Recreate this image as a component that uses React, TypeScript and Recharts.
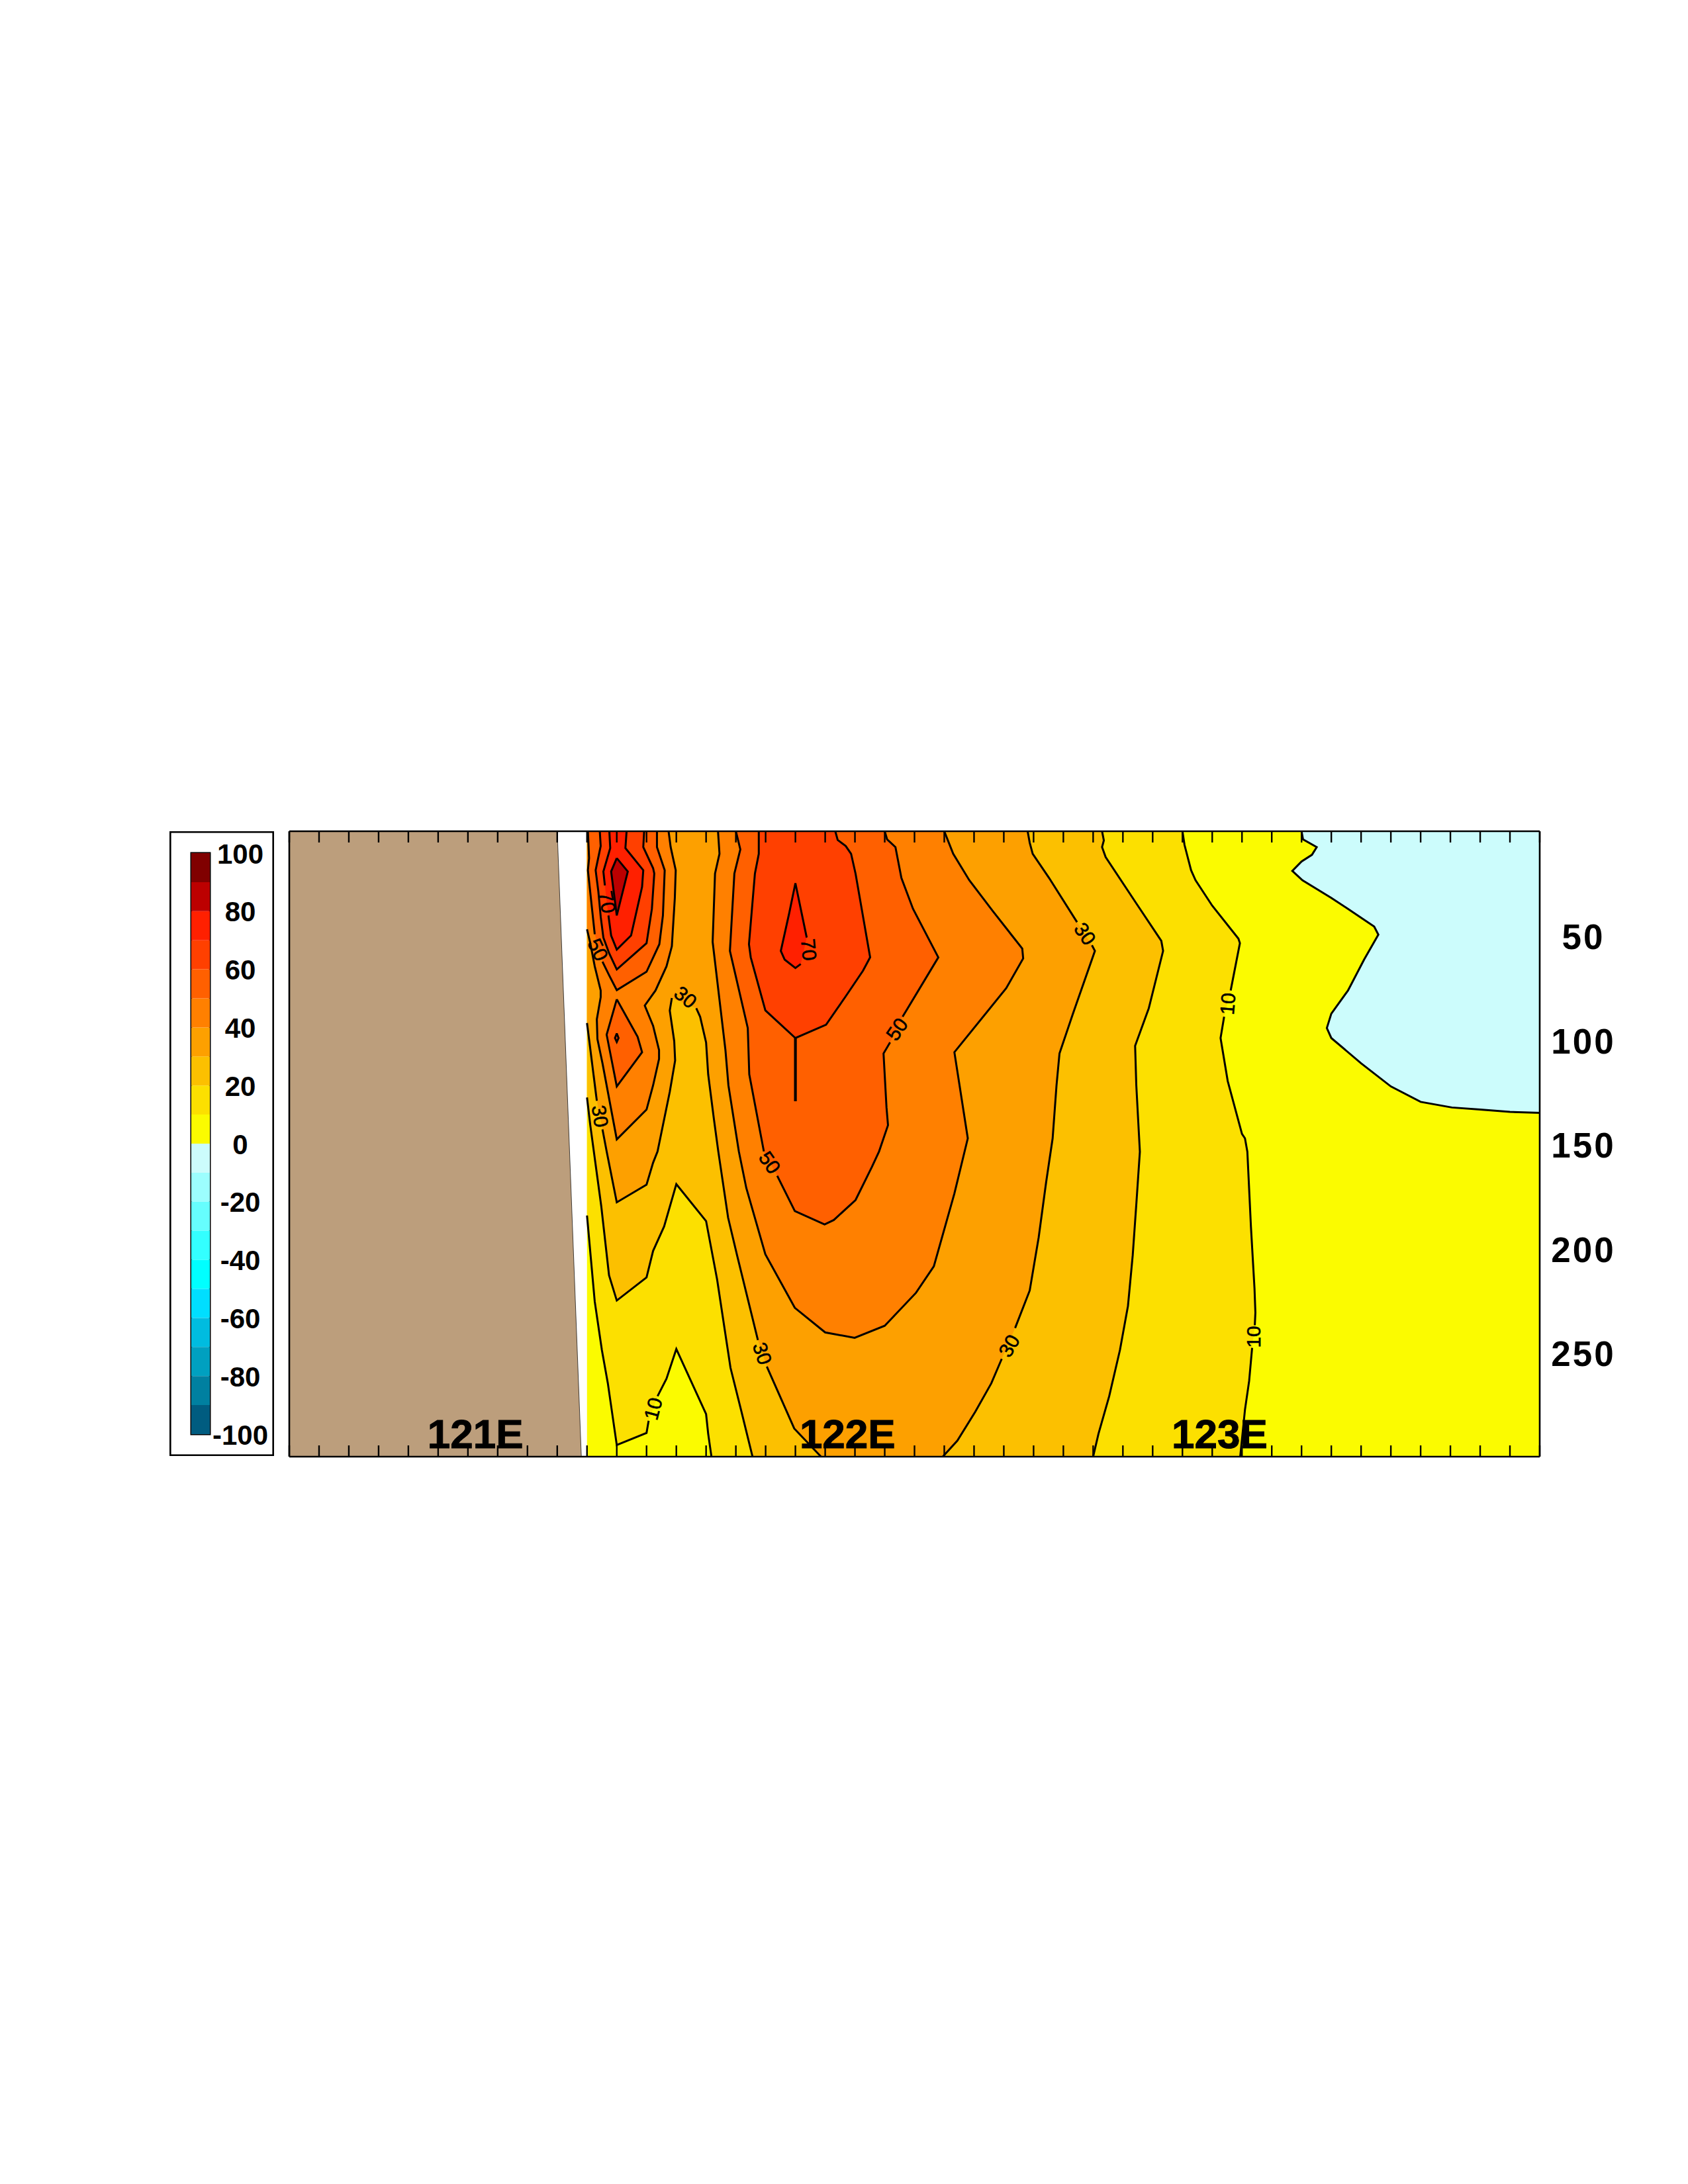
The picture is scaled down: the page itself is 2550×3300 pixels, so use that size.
import React from "react";
import {
    Bar,
    BarChart,
    ReferenceArea,
    Scatter,
    ScatterChart,
    XAxis,
    YAxis,
} from "recharts";

// x of every contour vertex is a model grid column: lon = 120.5 + 0.08 * column
const gridColumns = Array.from({length: 43}, (_, i) => i);
const depthTicks = [50, 100, 150, 200, 250];
const scaleTicks = [-100, -80, -60, -40, -20, 0, 20, 40, 60, 80, 100];

const positiveColors = ["#fbfb00", "#fce000", "#fcc000", "#fda000", "#ff8000", "#ff6000", "#ff4000", "#ff2000", "#bc0000", "#800000"];
const negativeColors = ["#ccfcfc", "#9cfefe", "#66fefe", "#33ffff", "#00ffff", "#00deff", "#00bce0", "#00a0c0", "#0080a0", "#005c80"];

const landOutline = [[0, 0], [9, 0], [9.81, 300], [0, 300]];
const landEdge = [[9, 0], [9.81, 300]];
const sectionArea = [[10, 0], [42, 0], [42, 300], [10, 300]];

const contour0 = [[[34, 0], [34.05, 3.9], [34.51, 7.6], [34.35, 11.3], [34, 14.5], [33.69, 19], [34.03, 23.5], [35, 32], [35.5, 36.7], [36.44, 45.7], [36.58, 49.6], [36.1, 61.6], [35.56, 76.4], [35, 87.5], [34.85, 94.4], [35, 99.2], [36, 111.3], [37, 122.4], [38, 129.8], [39.05, 132.5], [40, 133.5], [41, 134.6], [42, 135.1]]];

const contour10 = [
    [[10, 184.3], [10.26, 225.6], [10.5, 248.9], [10.7, 264.8], [11, 294.4], [12, 288.6], [12.07, 282.8]],
    [[12.37, 271], [12.67, 262.6], [13, 248.4], [14, 279.6], [14.07, 289], [14.18, 300]],
    [[31.94, 300], [32.1, 277.5], [32.24, 263.7], [32.34, 247.8]],
    [[32.43, 237], [32.45, 230.9], [32.42, 219.3], [32.3, 189.6], [32.18, 153.7], [32.1, 147.3], [32, 145.2], [31.52, 119.8], [31.28, 99.2], [31.4, 89]],
    [[31.62, 76.4], [31.93, 53.7], [31.88, 51.5], [31, 35.7], [30.44, 23.5], [30.29, 18.7], [30.07, 6.6], [30, 0]],
];

const contour20 = [
    [[10, 127.7], [10.11, 141], [10.48, 180], [10.74, 213], [11, 225.1], [12, 214], [12.22, 201.3], [12.59, 189.6], [13, 169.3], [14, 187], [14.37, 215], [14.82, 257.4], [15.19, 278.5], [15.56, 300]],
    [[27, 300], [27.18, 289], [27.54, 271], [27.9, 248.9], [28.17, 227.7], [28.33, 203.4], [28.45, 179], [28.57, 153.7], [28.45, 121.9], [28.41, 102.9], [28.87, 84.9], [29.35, 57.4], [29.29, 52.6], [28.45, 34.6], [27.42, 12.4], [27.3, 7.6], [27.36, 4.4], [27.3, 0]],
];

const contour30 = [
    [[10, 92], [10.33, 129.3]],
    [[10.52, 143], [10.66, 153.6], [11, 178], [12, 169.5], [12.22, 159], [12.37, 153.6], [12.78, 125], [12.96, 110], [12.93, 100.7], [12.78, 86], [12.85, 80]],
    [[13.67, 84.9], [13.8, 89], [14, 101.3], [14.07, 116.6], [14.26, 137.8], [14.41, 153.6], [14.74, 185.4], [15.04, 203.4], [15.74, 244.1]],
    [[16.04, 256.8], [16.96, 286.5], [17.86, 300]],
    [[21.95, 300], [22.44, 292.3], [23.04, 278.5], [23.58, 264.8], [23.93, 253.1]],
    [[24.38, 238.3], [24.87, 220.3], [25.17, 194.9], [25.42, 168.5], [25.64, 147.3], [25.77, 121.9], [25.87, 106.6], [26.31, 88], [27.06, 57.4], [26.96, 54.7]],
    [[26.46, 43.6], [25.52, 22.4], [24.97, 10.8], [24.87, 5.5], [24.8, 0]],
];

const contour40West = [[[10, 47], [10.11, 53.7], [10.26, 64.8], [10.46, 76.4], [10.46, 79.6], [10.33, 90.2], [10.35, 99.7], [10.52, 111.3], [11, 147.8], [12, 133.5], [12.22, 121.9], [12.42, 109.2], [12.42, 105], [12.22, 93.3], [11.94, 83.6], [12.3, 76.4], [12.67, 64.8], [12.85, 55.2], [12.95, 32], [12.98, 18.7], [12.81, 7.6], [12.74, 0]]];
const contour40East = [[[14.4, 0], [14.45, 10.8], [14.3, 20.3], [14.22, 53.1], [14.65, 105], [14.75, 121.9], [15.1, 153.6], [15.35, 171.1], [15.99, 202.9], [16.98, 228.6], [18, 240.4], [18.99, 243], [20, 237.2], [21.05, 221.4], [21.65, 208.7], [22.34, 173.8], [22.79, 147.3], [22.34, 106], [24.08, 75.3], [24.65, 61], [24.62, 56.3], [23.63, 38.3], [22.84, 23.5], [22.3, 10.8], [22, 0]]];

const contour50West = [
    [[12.35, 0], [12.35, 7.6], [12.61, 18.7], [12.55, 40.4], [12.43, 54.2], [12, 67.4], [11, 76.2], [10.74, 69], [10.52, 62.6]],
    [[10.26, 49.4], [10.03, 18.7], [10.07, 12.9], [10.03, 0]],
];
const contour50Patch = [[[11, 80.6], [11.7, 98.6], [11.85, 106], [11, 122.4], [10.66, 97.6], [11, 80.6]]];
const contour50East = [
    [[15, 0], [15.15, 8.7], [14.95, 20.3], [14.8, 57.4], [15.4, 94.4], [15.45, 116.6], [15.94, 153.6]],
    [[16.39, 165.3], [16.98, 182.2], [17.98, 188.6], [18.29, 186.5], [19.02, 176.9], [19.57, 161], [19.81, 153.6], [20.11, 141], [20.06, 132.5], [19.96, 106.6], [20.18, 101.3]],
    [[20.6, 89], [21.8, 60.5], [20.95, 37.2], [20.56, 22.4], [20.36, 7.6], [20.08, 3.9], [20, 0]],
];

const contour60West = [[[11.92, 0], [11.89, 7.6], [12.22, 17.7], [12.26, 20.3], [12.18, 37.2], [12, 53.7], [11, 66.3], [10.74, 58.4], [10.55, 51], [10.46, 41], [10.38, 28.8], [10.29, 18.7], [10.46, 7.1], [10.43, 0]]];
const contour60Patch = [[[11, 97], [11.06, 99.2], [11, 101.1], [10.94, 99.2], [11, 97]]];
const contour60East = [[[15.77, 0], [15.77, 10.8], [15.64, 20.3], [15.44, 54.2], [15.5, 60.5], [15.99, 85.9], [17, 99.2], [18.03, 92.8], [18.67, 79.6], [19.27, 66.9], [19.51, 60.5], [19.02, 20.3], [18.87, 10.8], [18.69, 7.1], [18.42, 4.2], [18.34, 0]]];
const contour60Spike = [[[17, 99.2], [17, 129.5]]];

const contour70West = [
    [[11.33, 0], [11.29, 8.1], [11.89, 18.7], [11.85, 26.7], [11.48, 50], [11, 56.8], [10.81, 50], [10.72, 40.4]],
    [[10.6, 26], [10.55, 19.3], [10.78, 8.1], [10.75, 0]],
];
const contour70East = [
    [[17.38, 51], [17, 24.9], [16.79, 39.4], [16.51, 57.4], [16.64, 61.6], [17, 65.6], [17.18, 63.7]],
];
const contour80 = [[[11, 12.9], [11.37, 19.3], [11, 40.4], [10.81, 19.3], [11, 12.9]]];

const contourLabelText = ["70", "50", "30", "30", "10", "70", "50", "50", "30", "30", "30", "10", "10"];
const contourLabelColumn = [10.68, 10.37, 10.44, 13.31, 12.22, 17.45, 20.41, 16.14, 15.89, 24.18, 26.73, 31.52, 32.39];
const contourLabelDepth = [34, 56.8, 136.7, 79.6, 277, 56.8, 94.9, 158.9, 250.5, 246.8, 49.2, 82.8, 242.5];
const contourLabelAngle = [80, 65, 82, 40, -75, 85, -55, 55, 72, -60, 55, -85, -90];

const placeNames = ["121E", "122E", "123E"];
const placeLons = [121, 122, 123];
const placeDepth = 295.9;

const gridLon = (column: number) => 120.5 + 0.08 * column;
const toPoints = (pts: number[][]) => pts.map(([column, depth]) => ({lon: gridLon(column), depth}));

type Band = { color: string; segments: number[][][]; corners: number[][] };

const bands: Band[] = [
    {color: positiveColors[0], segments: [sectionArea], corners: []},
    {color: negativeColors[0], segments: contour0, corners: [[42, 0]]},
    {color: positiveColors[1], segments: contour10, corners: [[10, 0]]},
    {color: positiveColors[2], segments: contour20, corners: [[10, 0]]},
    {color: positiveColors[3], segments: contour30, corners: [[10, 0]]},
    {color: positiveColors[4], segments: contour40West, corners: [[10, 0]]},
    {color: positiveColors[4], segments: contour40East, corners: []},
    {color: positiveColors[5], segments: contour50West, corners: []},
    {color: positiveColors[5], segments: contour50Patch, corners: []},
    {color: positiveColors[5], segments: contour50East, corners: []},
    {color: positiveColors[6], segments: contour60West, corners: []},
    {color: positiveColors[6], segments: contour60Patch, corners: []},
    {color: positiveColors[6], segments: contour60East, corners: []},
    {color: positiveColors[7], segments: contour70West, corners: []},
    {color: positiveColors[7], segments: contour70East, corners: []},
    {color: positiveColors[8], segments: contour80, corners: []},
];

const contourLines = [
    contour0, contour10, contour20, contour30, contour40West, contour40East,
    contour50West, contour50Patch, contour50East, contour60West, contour60Patch,
    contour60East, contour70West, contour70East, contour80,
].flat();

const gridLons = gridColumns.map(gridLon);
const contourLabels = contourLabelText.map((text, i) => ({
    lon: gridLon(contourLabelColumn[i]),
    depth: contourLabelDepth[i],
    text,
    angle: contourLabelAngle[i],
}));
const places = placeNames.map((name, i) => ({lon: placeLons[i], depth: placeDepth, name}));

const FONT = "'Liberation Sans', Arial, sans-serif";
const noMarker = () => <g/>;

const polygon = (color: string) => (props: any) => {
    const d = props.points.map((p: any, i: number) => (i ? "L" : "M") + p.x + "," + p.y).join("") + "Z";
    return <path d={d} fill={color} stroke="none"/>;
};

const contourLabel = (props: any) => (
    <text
        x={props.cx}
        y={props.cy}
        transform={"rotate(" + props.payload.angle + " " + props.cx + " " + props.cy + ")"}
        textAnchor="middle"
        dominantBaseline="central"
        fontFamily={FONT}
        fontSize={30}
        fill="#000"
        stroke="#000"
        strokeWidth={0.6}
    >
        {props.payload.text}
    </text>
);

const placeLabel = (props: any) => (
    <text x={props.cx} y={props.cy} textAnchor="middle" fontFamily={FONT} fontWeight="bold" fontSize={62} fill="#000" stroke="#000" strokeWidth={1}>
        {props.payload.name}
    </text>
);

const depthTick = (props: any) => (
    <text
        x={props.x + 66}
        y={props.y + 2}
        textAnchor="middle"
        dominantBaseline="central"
        fontFamily={FONT}
        fontWeight="bold"
        fontSize={53}
        letterSpacing={3}
        fill="#000"
    >
        {props.payload.value}
    </text>
);

const scaleTick = (props: any) => (
    <text
        x={props.x + 46}
        y={props.y + 1}
        textAnchor="middle"
        dominantBaseline="central"
        fontFamily={FONT}
        fontWeight="bold"
        fontSize={42}
        fill="#000"
    >
        {props.payload.value}
    </text>
);

const scaleRow: any = {name: "scale"};
positiveColors.forEach((_, i) => (scaleRow["p" + i] = 10));
negativeColors.forEach((_, i) => (scaleRow["n" + i] = -10));

function ColorScale() {
    return (
        <BarChart
            width={158}
            height={944}
            data={[scaleRow]}
            stackOffset="sign"
            barCategoryGap={0}
            margin={{top: 33, right: 0, bottom: 33, left: 33}}
        >
            <XAxis dataKey="name" hide/>
            <YAxis
                type="number"
                orientation="right"
                domain={[-100, 100]}
                ticks={scaleTicks}
                interval={0}
                width={97}
                axisLine={false}
                tickLine={false}
                tickSize={0}
                tickMargin={0}
                tick={scaleTick}
            />
            {positiveColors.map((c, i) => (
                <Bar key={"p" + i} dataKey={"p" + i} stackId="scale" fill={c} isAnimationActive={false}/>
            ))}
            {negativeColors.map((c, i) => (
                <Bar key={"n" + i} dataKey={"n" + i} stackId="scale" fill={c} isAnimationActive={false}/>
            ))}
            <ReferenceArea y1={-100} y2={100} fill="none" stroke="#000" strokeWidth={3} ifOverflow="visible"/>
        </BarChart>
    );
}

const xProps = {
    type: "number" as const,
    dataKey: "lon",
    domain: [120.5, 123.86],
    ticks: gridLons,
    interval: 0,
    height: 1,
    allowDataOverflow: true,
    tick: noMarker,
    tickSize: -17,
    axisLine: {stroke: "#000", strokeWidth: 2.6},
    tickLine: {stroke: "#000", strokeWidth: 2.4},
};
const yProps = {
    type: "number" as const,
    dataKey: "depth",
    domain: [0, 300],
    reversed: true,
    allowDataOverflow: true,
    axisLine: {stroke: "#000", strokeWidth: 2.6},
    tickLine: false,
};

function SectionChart() {
    const ids = {xAxisId: "lon", yAxisId: "depth"};

    return (
        <ScatterChart width={2100} height={1050} margin={{top: 56, right: 174, bottom: 49, left: 37}}>
            <XAxis xAxisId="lon" hide {...xProps}/>
            <YAxis yAxisId="depth" hide {...yProps}/>

            <Scatter {...ids} data={toPoints(landOutline)} shape={noMarker} line={polygon("#bc9e7c")} isAnimationActive={false}/>
            <Scatter {...ids} data={toPoints(landEdge)} shape={noMarker} line={{stroke: "#000", strokeWidth: 0.7}} isAnimationActive={false}/>

            {bands.map((band, i) => (
                <Scatter
                    key={"band" + i}
                    {...ids}
                    data={toPoints([...band.segments.flat(), ...band.corners])}
                    shape={noMarker}
                    line={polygon(band.color)}
                    isAnimationActive={false}
                />
            ))}

            {contourLines.map((segment, i) => (
                <Scatter
                    key={"line" + i}
                    {...ids}
                    data={toPoints(segment)}
                    shape={noMarker}
                    line={{stroke: "#000", strokeWidth: 3}}
                    isAnimationActive={false}
                />
            ))}
            <Scatter {...ids} data={toPoints(contour60Spike[0])} shape={noMarker} line={{stroke: "#000", strokeWidth: 4.2}} isAnimationActive={false}/>

            <Scatter {...ids} data={contourLabels} shape={contourLabel} isAnimationActive={false}/>
            <Scatter {...ids} data={places} shape={placeLabel} isAnimationActive={false}/>
        </ScatterChart>
    );
}

// axes sit in their own chart on top, since recharts paints axes under the series
function SectionFrame() {
    return (
        <ScatterChart width={2100} height={1050} margin={{top: 55, right: 24, bottom: 48, left: 36}}>
            <XAxis xAxisId="lon" orientation="bottom" {...xProps}/>
            <XAxis xAxisId="lonTop" orientation="top" {...xProps}/>
            <YAxis yAxisId="depthLeft" orientation="left" width={1} ticks={[]} tick={false} {...yProps}/>
            <YAxis
                yAxisId="depth"
                orientation="right"
                width={150}
                ticks={depthTicks}
                interval={0}
                tickSize={0}
                tickMargin={0}
                tick={depthTick}
                {...yProps}
            />
        </ScatterChart>
    );
}

export default function App() {
    return (
        <div style={{position: "absolute", left: 0, top: 0, width: 2550, height: 3300, background: "#fff"}}>
            <div style={{position: "absolute", left: 256, top: 1256, width: 158, height: 944, boxShadow: "inset 0 0 0 2.6px #000"}}>
                <ColorScale/>
            </div>
            <div style={{position: "absolute", left: 400, top: 1200}}>
                <SectionChart/>
            </div>
            <div style={{position: "absolute", left: 400, top: 1200}}>
                <SectionFrame/>
            </div>
        </div>
    );
}
